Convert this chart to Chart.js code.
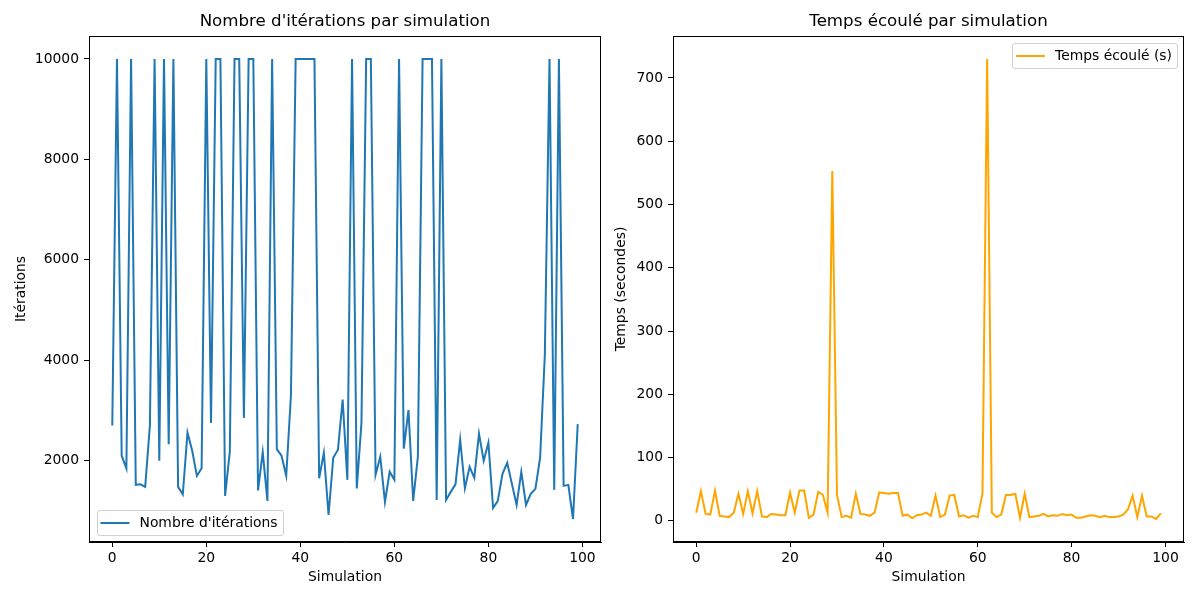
<!DOCTYPE html>
<html>
<head>
<meta charset="utf-8">
<script src="https://cdn.jsdelivr.net/npm/chart.js@4/dist/chart.umd.min.js"></script>
<style>
  html, body { margin: 0; padding: 0; background: #fff; }
  #wrap { position: relative; width: 1200px; height: 600px; overflow: hidden; }
  .box { position: absolute; top: 0; height: 600px; }
  #leftBox { left: 0; width: 610px; }
  #rightBox { left: 610px; width: 590px; }
</style>
</head>
<body>
<div id="wrap">
  <div class="box" id="leftBox"><canvas id="iterChart"></canvas></div>
  <div class="box" id="rightBox"><canvas id="timeChart"></canvas></div>
</div>
<script>
// Nombre d'itérations, simulation 0..99
const iterations = [
  2700, 10000, 2100, 1850, 10000, 1520, 1530, 1480, 2700, 10000,
  2000, 10000, 2330, 10000, 1480, 1330, 2560, 2200, 1700, 1850,
  10000, 2750, 10000, 10000, 1300, 2180, 10000, 10000, 2850, 10000,
  10000, 1410, 2170, 1200, 10000, 2230, 2100, 1700, 3300, 10000,
  10000, 10000, 10000, 10000, 1650, 2160, 920, 2060, 2220, 3220,
  1620, 10000, 1450, 2750, 10000, 10000, 1720, 2080, 1180, 1780,
  1620, 10000, 2240, 3010, 1200, 2080, 10000, 10000, 10000, 1220,
  10000, 1220, 1380, 1530, 2420, 1450, 1880, 1660, 2540, 2000,
  2360, 1060, 1200, 1740, 1960, 1540, 1120, 1780, 1120, 1340,
  1440, 2060, 4100, 10000, 1420, 10000, 1500, 1520, 840, 2730
];

// Temps écoulé (s), simulation 0..99
const elapsed = [
  13, 47, 11, 10, 48, 8, 7, 6, 13, 43,
  11, 47, 12, 47, 7, 6, 11, 10, 9, 9,
  45, 13, 48, 48, 5, 10, 46, 41, 13, 553,
  41, 6, 8, 5, 43, 11, 10, 8, 13, 45,
  44, 43, 44, 44, 8, 10, 4, 9, 10, 13,
  8, 40, 6, 10, 40, 41, 7, 9, 5, 8,
  6, 43, 730, 13, 6, 10, 41, 41, 43, 5,
  43, 6, 7, 8, 11, 7, 9, 8, 11, 9,
  10, 5, 5, 7, 9, 8, 6, 8, 6, 6,
  7, 10, 18, 40, 6, 40, 7, 7, 3, 12
];

const xTicks = [0, 20, 40, 60, 80, 100];
const iterTicks = [2000, 4000, 6000, 8000, 10000];
const timeTicks = [0, 100, 200, 300, 400, 500, 600, 700];

const FONT = "'DejaVu Sans', sans-serif";
const FS = 13.89;   // 10pt at 100 dpi
const TITLE_FS = 16.67;
Chart.defaults.font.family = FONT;
Chart.defaults.font.size = FS;
Chart.defaults.color = '#000';

// matplotlib-like 5% margins
function padRange(min, max) {
  const m = (max - min) * 0.05;
  return { min: min - m, max: max + m };
}

// frame (top/right spines), title centered on the plot area, legend inside the axes
function decorPlugin(title, label, color, corner) {
  return {
    id: 'decor',
    afterDraw(chart) {
      const { ctx, chartArea: a } = chart;
      ctx.save();
      ctx.strokeStyle = '#000';
      ctx.lineWidth = 1;
      const l = Math.round(a.left) + 0.5, r = Math.round(a.right) - 0.5;
      const t = Math.round(a.top) + 0.5, b = Math.round(a.bottom) - 0.5;
      ctx.strokeRect(l, t, r - l, b - t);

      ctx.fillStyle = '#000';
      ctx.font = TITLE_FS + 'px ' + FONT;
      ctx.textAlign = 'center';
      ctx.textBaseline = 'middle';
      ctx.fillText(title, (a.left + a.right) / 2, 22);

      ctx.font = FS + 'px ' + FONT;
      const tw = ctx.measureText(label).width;
      const w = 5 + 28 + 10 + tw + 5, h = 25;
      const x = corner === 'lowerLeft' ? a.left + 7.5 : a.right - 7 - w;
      const y = corner === 'lowerLeft' ? a.bottom - 7 - h : a.top + 7;
      ctx.beginPath();
      ctx.roundRect(Math.round(x) + 0.5, Math.round(y) + 0.5, Math.round(w), Math.round(h), 2.5);
      ctx.fillStyle = 'rgba(255,255,255,0.8)';
      ctx.fill();
      ctx.strokeStyle = '#d0d0d0';
      ctx.lineWidth = 1;
      ctx.stroke();

      const cy = y + h / 2 + 0.5;
      ctx.beginPath();
      ctx.moveTo(x + 4, cy);
      ctx.lineTo(x + 33, cy);
      ctx.strokeStyle = color;
      ctx.lineWidth = 2;
      ctx.stroke();

      ctx.fillStyle = '#000';
      ctx.textAlign = 'left';
      ctx.fillText(label, x + 43, cy);
      ctx.restore();
    }
  };
}

function makeChart(canvasId, opts) {
  const yr = padRange(Math.min(...opts.values), Math.max(...opts.values));
  return new Chart(document.getElementById(canvasId), {
    type: 'line',
    data: {
      datasets: [{
        label: opts.label,
        data: opts.values.map((v, i) => ({ x: i, y: v })),
        borderColor: opts.color,
        borderWidth: 2,
        pointRadius: 0,
        tension: 0,
        fill: false
      }]
    },
    options: {
      responsive: true,
      maintainAspectRatio: false,
      animation: false,
      layout: { padding: { top: 36, right: opts.padRight, left: 0, bottom: 0 } },
      plugins: {
        legend: { display: false },
        tooltip: { enabled: false }
      },
      scales: {
        x: {
          type: 'linear',
          min: -4.95,
          max: 103.95,
          afterBuildTicks: s => { s.ticks = xTicks.map(v => ({ value: v })); },
          afterFit: s => { s.height = 58; },
          grid: { drawOnChartArea: false, drawTicks: true, tickLength: 5, tickColor: '#000', color: '#000' },
          border: { display: true, color: '#000', width: 1 },
          ticks: { padding: 3, color: '#000', font: { size: FS }, callback: v => String(v) },
          title: { display: true, text: 'Simulation', color: '#000', font: { size: FS }, padding: { top: 4, bottom: 14 } }
        },
        y: {
          type: 'linear',
          min: yr.min,
          max: yr.max,
          afterBuildTicks: s => { s.ticks = opts.yTicks.map(v => ({ value: v })); },
          afterFit: s => { s.width = opts.yWidth; },
          grid: { drawOnChartArea: false, drawTicks: true, tickLength: 5, tickColor: '#000', color: '#000' },
          border: { display: true, color: '#000', width: 1 },
          ticks: { padding: 5, color: '#000', font: { size: FS }, callback: v => String(v) },
          title: { display: true, text: opts.yTitle, color: '#000', font: { size: FS }, padding: { top: opts.yTitlePad, bottom: 0 } }
        }
      }
    },
    plugins: [decorPlugin(opts.title, opts.label, opts.color, opts.legendCorner)]
  });
}

makeChart('iterChart', {
  values: iterations,
  label: "Nombre d'itérations",
  title: "Nombre d'itérations par simulation",
  yTitle: 'Itérations',
  color: '#1f77b4',
  yTicks: iterTicks,
  yWidth: 89,
  yTitlePad: 13,
  padRight: 9,
  legendCorner: 'lowerLeft'
});

makeChart('timeChart', {
  values: elapsed,
  label: 'Temps écoulé (s)',
  title: 'Temps écoulé par simulation',
  yTitle: 'Temps (secondes)',
  color: '#ffa500',
  yTicks: timeTicks,
  yWidth: 63,
  yTitlePad: 3,
  padRight: 16,
  legendCorner: 'upperRight'
});
</script>
</body>
</html>
